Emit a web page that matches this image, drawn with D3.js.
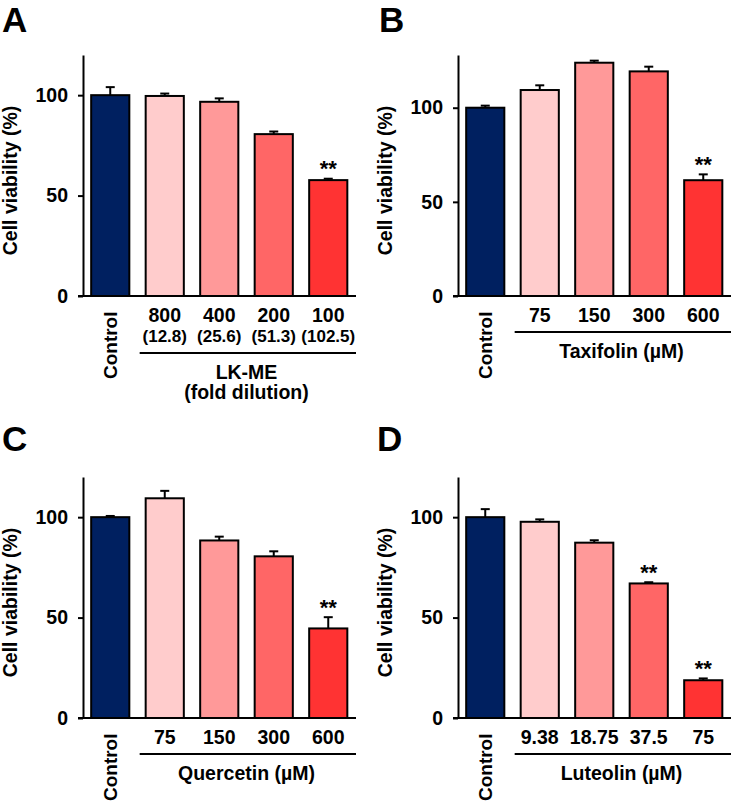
<!DOCTYPE html>
<html>
<head>
<meta charset="utf-8">
<script src="https://cdn.jsdelivr.net/npm/d3@7"></script>
<style>
  html, body { margin: 0; padding: 0; background: #fff; }
  svg text { font-family: "Liberation Sans", Arial, Helvetica, sans-serif; font-weight: bold; fill: #000; }
</style>
</head>
<body>
<svg id="chart" width="733" height="803"></svg>
<script>
// ---------- DATA ----------
const barColors = ["#002060", "#FFCCCC", "#FF9999", "#FF6666", "#FF3333"];
const yTicks = [0, 50, 100];

const categoriesA = ["Control", "800", "400", "200", "100"];
const subLabelsA = ["", "(12.8)", "(25.6)", "(51.3)", "(102.5)"];
const valuesA = [100, 99.6, 96.7, 80.6, 57.7];
const errorsA = [4.0, 1.2, 1.7, 1.3, 0.7];
const signifA = ["", "", "", "", "**"];
const groupA = ["LK-ME", "(fold dilution)"];

const categoriesB = ["Control", "75", "150", "300", "600"];
const valuesB = [100, 109.4, 123.9, 119.3, 61.5];
const errorsB = [1.1, 2.5, 1.1, 2.5, 3.1];
const signifB = ["", "", "", "", "**"];
const groupB = ["Taxifolin (\u00B5M)"];

const categoriesC = ["Control", "75", "150", "300", "600"];
const valuesC = [100, 109.4, 88.4, 80.5, 44.6];
const errorsC = [0.6, 3.7, 1.9, 2.5, 5.6];
const signifC = ["", "", "", "", "**"];
const groupC = ["Quercetin (\u00B5M)"];

const categoriesD = ["Control", "9.38", "18.75", "37.5", "75"];
const valuesD = [100, 97.7, 87.3, 67.0, 18.8];
const errorsD = [4.0, 1.2, 1.2, 0.6, 0.9];
const signifD = ["", "", "", "**", "**"];
const groupD = ["Luteolin (\u00B5M)"];

const panelLetters = ["A", "B", "C", "D"];
const yMaxes = [120, 128, 120, 120];

// ---------- DRAW ----------
const svg = d3.select("#chart");
const FS = 19.5;

function drawPanel(opt) {
  const g = svg.append("g");
  const { axisX, baseY, topY } = opt;
  const plotW = 272.5;

  const x = d3.scaleBand()
    .domain(opt.categories)
    .range([axisX, axisX + plotW])
    .paddingInner(0.3)
    .paddingOuter(0.15);
  const y = d3.scaleLinear().domain([0, opt.yMax]).range([baseY, topY]);

  // panel letter
  g.append("text")
    .attr("x", opt.letterX).attr("y", opt.letterY)
    .attr("font-size", 35)
    .text(opt.letter);

  const data = opt.categories.map((c, i) => ({
    c, v: opt.values[i], e: opt.errors[i], s: opt.signif[i], color: barColors[i]
  }));

  // error bars
  const eb = g.append("g").attr("stroke", "#000").attr("stroke-width", 2);
  data.forEach(d => {
    const cx = x(d.c) + x.bandwidth() / 2;
    eb.append("line")
      .attr("x1", cx).attr("x2", cx)
      .attr("y1", y(d.v)).attr("y2", y(d.v + d.e));
    eb.append("line")
      .attr("x1", cx - 4.5).attr("x2", cx + 4.5)
      .attr("y1", y(d.v + d.e)).attr("y2", y(d.v + d.e));
  });

  // bars
  g.append("g").selectAll("rect")
    .data(data)
    .join("rect")
    .attr("x", d => x(d.c))
    .attr("y", d => y(d.v))
    .attr("width", x.bandwidth())
    .attr("height", d => y(0) - y(d.v))
    .attr("fill", d => d.color)
    .attr("stroke", "#000")
    .attr("stroke-width", 2);

  // significance marks
  g.append("g").selectAll("text")
    .data(data.filter(d => d.s))
    .join("text")
    .attr("x", d => x(d.c) + x.bandwidth() / 2)
    .attr("y", d => y(d.v + d.e) - 2.5)
    .attr("text-anchor", "middle")
    .attr("font-size", 22)
    .text(d => d.s);

  // y axis
  const yAxis = d3.axisLeft(y).tickValues(yTicks).tickSize(5).tickSizeOuter(0).tickPadding(10);
  const ya = g.append("g").attr("transform", `translate(${axisX},0)`).call(yAxis);
  ya.select(".domain").attr("stroke", "#000").attr("stroke-width", 2);
  ya.selectAll(".tick line").attr("stroke", "#000").attr("stroke-width", 2);
  ya.selectAll(".tick text")
    .attr("font-size", FS)
    .attr("font-family", "Liberation Sans, Arial, sans-serif")
    .attr("font-weight", "bold")
    .attr("fill", "#000");

  // x axis baseline
  g.append("line")
    .attr("x1", axisX - 5).attr("x2", axisX + plotW + 0.5)
    .attr("y1", baseY).attr("y2", baseY)
    .attr("stroke", "#000").attr("stroke-width", 2);

  // y axis title
  const ymid = (baseY + topY) / 2 + 5;
  g.append("text")
    .attr("transform", `translate(${axisX - 66},${ymid}) rotate(-90)`)
    .attr("text-anchor", "middle")
    .attr("font-size", FS)
    .text("Cell viability (%)");

  // category labels
  data.forEach((d, i) => {
    const cx = x(d.c) + x.bandwidth() / 2;
    if (i === 0) {
      g.append("text")
        .attr("transform", `translate(${cx + 6.5},${baseY + 15.5}) rotate(-90)`)
        .attr("text-anchor", "end")
        .attr("font-size", 19)
        .text(d.c);
    } else {
      g.append("text")
        .attr("x", cx).attr("y", baseY + 26)
        .attr("text-anchor", "middle")
        .attr("font-size", FS)
        .text(d.c);
      if (opt.subLabels && opt.subLabels[i]) {
        g.append("text")
          .attr("x", cx).attr("y", baseY + 46)
          .attr("text-anchor", "middle")
          .attr("font-size", 17)
          .text(opt.subLabels[i]);
      }
    }
  });

  // group bracket line
  const first = opt.categories[1];
  const last = opt.categories[opt.categories.length - 1];
  const lineY = baseY + opt.lineOffset;
  g.append("line")
    .attr("x1", x(first) - 6).attr("x2", axisX + plotW + 0.5)
    .attr("y1", lineY).attr("y2", lineY)
    .attr("stroke", "#000").attr("stroke-width", 2);
  const gx = (x(first) + x(last) + x.bandwidth()) / 2;
  opt.group.forEach((t, k) => {
    g.append("text")
      .attr("x", gx).attr("y", lineY + 26 + k * 20)
      .attr("text-anchor", "middle")
      .attr("font-size", FS)
      .text(t);
  });
}

drawPanel({
  letter: panelLetters[0], letterX: 2, letterY: 32,
  axisX: 83, baseY: 296, topY: 55, yMax: yMaxes[0],
  categories: categoriesA, subLabels: subLabelsA, values: valuesA, errors: errorsA,
  signif: signifA, group: groupA, lineOffset: 57
});
drawPanel({
  letter: panelLetters[1], letterX: 379, letterY: 32,
  axisX: 458, baseY: 296, topY: 55, yMax: yMaxes[1],
  categories: categoriesB, values: valuesB, errors: errorsB,
  signif: signifB, group: groupB, lineOffset: 36
});
drawPanel({
  letter: panelLetters[2], letterX: 2, letterY: 451,
  axisX: 83, baseY: 718, topY: 477, yMax: yMaxes[2],
  categories: categoriesC, values: valuesC, errors: errorsC,
  signif: signifC, group: groupC, lineOffset: 36
});
drawPanel({
  letter: panelLetters[3], letterX: 377, letterY: 451,
  axisX: 458, baseY: 718, topY: 477, yMax: yMaxes[3],
  categories: categoriesD, values: valuesD, errors: errorsD,
  signif: signifD, group: groupD, lineOffset: 36
});
</script>
</body>
</html>
